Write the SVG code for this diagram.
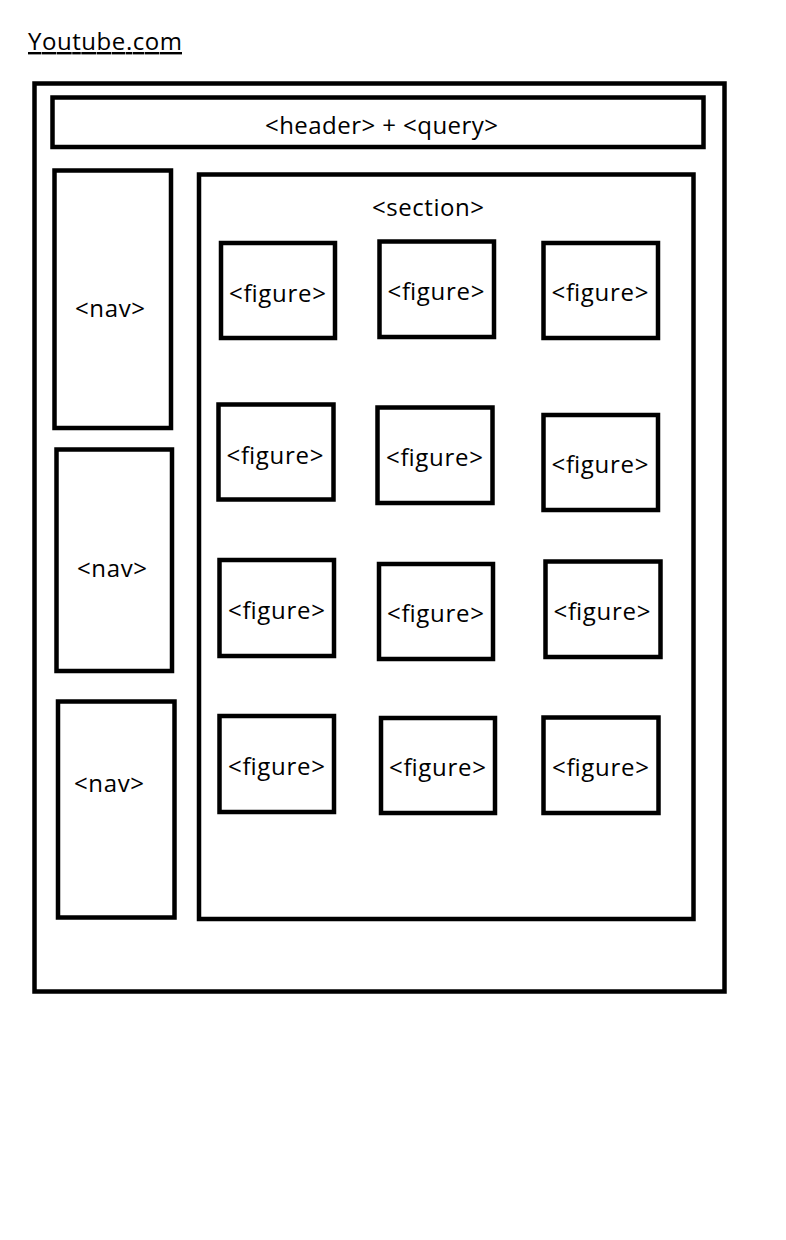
<svg xmlns="http://www.w3.org/2000/svg" width="786" height="1240" viewBox="0 0 786 1240">
<style>
.box{fill:none;stroke:#000;stroke-width:4.5}
.lbl{font-family:"Open Sans","Liberation Sans",sans-serif;font-size:24px;fill:#000;text-anchor:middle}
</style>
<rect width="786" height="1240" fill="#fff"/>
<g id="title"><text x="28" y="50" style="font-family:'Open Sans','Liberation Sans',sans-serif;font-size:24px;text-decoration:underline" textLength="154" fill="#000">Youtube.com</text></g>
<g id="page"><rect class="box" x="34.5" y="83.5" width="690" height="908"/></g>
<g id="header"><rect class="box" x="52.5" y="97.5" width="651" height="49.5"/><text class="lbl" x="381.5" y="134" textLength="233">&lt;header&gt; + &lt;query&gt;</text></g>
<g id="nav1"><rect class="box" x="54.5" y="170.5" width="116.5" height="257.5"/><text class="lbl" x="110" y="317" textLength="70">&lt;nav&gt;</text></g>
<g id="nav2"><rect class="box" x="56.5" y="449.5" width="115.5" height="221.5"/><text class="lbl" x="112" y="577" textLength="70">&lt;nav&gt;</text></g>
<g id="nav3"><rect class="box" x="58" y="701.5" width="116.5" height="216"/><text class="lbl" x="109" y="792" textLength="70">&lt;nav&gt;</text></g>
<g id="section"><rect class="box" x="199" y="174.5" width="494.5" height="744.5"/><text class="lbl" x="428" y="216" textLength="112">&lt;section&gt;</text></g>
<g id="figure1"><rect class="box" x="221" y="243" width="114" height="95"/><text class="lbl" x="277.5" y="302" textLength="97">&lt;figure&gt;</text></g>
<g id="figure2"><rect class="box" x="379.5" y="241.5" width="114.5" height="95.5"/><text class="lbl" x="436" y="300" textLength="97">&lt;figure&gt;</text></g>
<g id="figure3"><rect class="box" x="543.5" y="243" width="114.5" height="95"/><text class="lbl" x="600" y="301" textLength="97">&lt;figure&gt;</text></g>
<g id="figure4"><rect class="box" x="218.5" y="404.5" width="115" height="95"/><text class="lbl" x="275" y="464" textLength="97">&lt;figure&gt;</text></g>
<g id="figure5"><rect class="box" x="377.5" y="407.5" width="115" height="95.5"/><text class="lbl" x="434.5" y="466" textLength="97">&lt;figure&gt;</text></g>
<g id="figure6"><rect class="box" x="543.5" y="415" width="114.5" height="95"/><text class="lbl" x="600" y="473" textLength="97">&lt;figure&gt;</text></g>
<g id="figure7"><rect class="box" x="219.5" y="560" width="114.5" height="96"/><text class="lbl" x="276.5" y="619" textLength="97">&lt;figure&gt;</text></g>
<g id="figure8"><rect class="box" x="379" y="564" width="114" height="95"/><text class="lbl" x="435.5" y="622" textLength="97">&lt;figure&gt;</text></g>
<g id="figure9"><rect class="box" x="545.5" y="561.5" width="115" height="95.5"/><text class="lbl" x="602" y="620" textLength="97">&lt;figure&gt;</text></g>
<g id="figure10"><rect class="box" x="219.5" y="716" width="114.5" height="96"/><text class="lbl" x="276.5" y="775" textLength="97">&lt;figure&gt;</text></g>
<g id="figure11"><rect class="box" x="381" y="718" width="114" height="95"/><text class="lbl" x="437.5" y="776" textLength="97">&lt;figure&gt;</text></g>
<g id="figure12"><rect class="box" x="543.5" y="717.5" width="115" height="95.5"/><text class="lbl" x="600.5" y="776" textLength="97">&lt;figure&gt;</text></g>
<g id="connectors"></g>
</svg>
